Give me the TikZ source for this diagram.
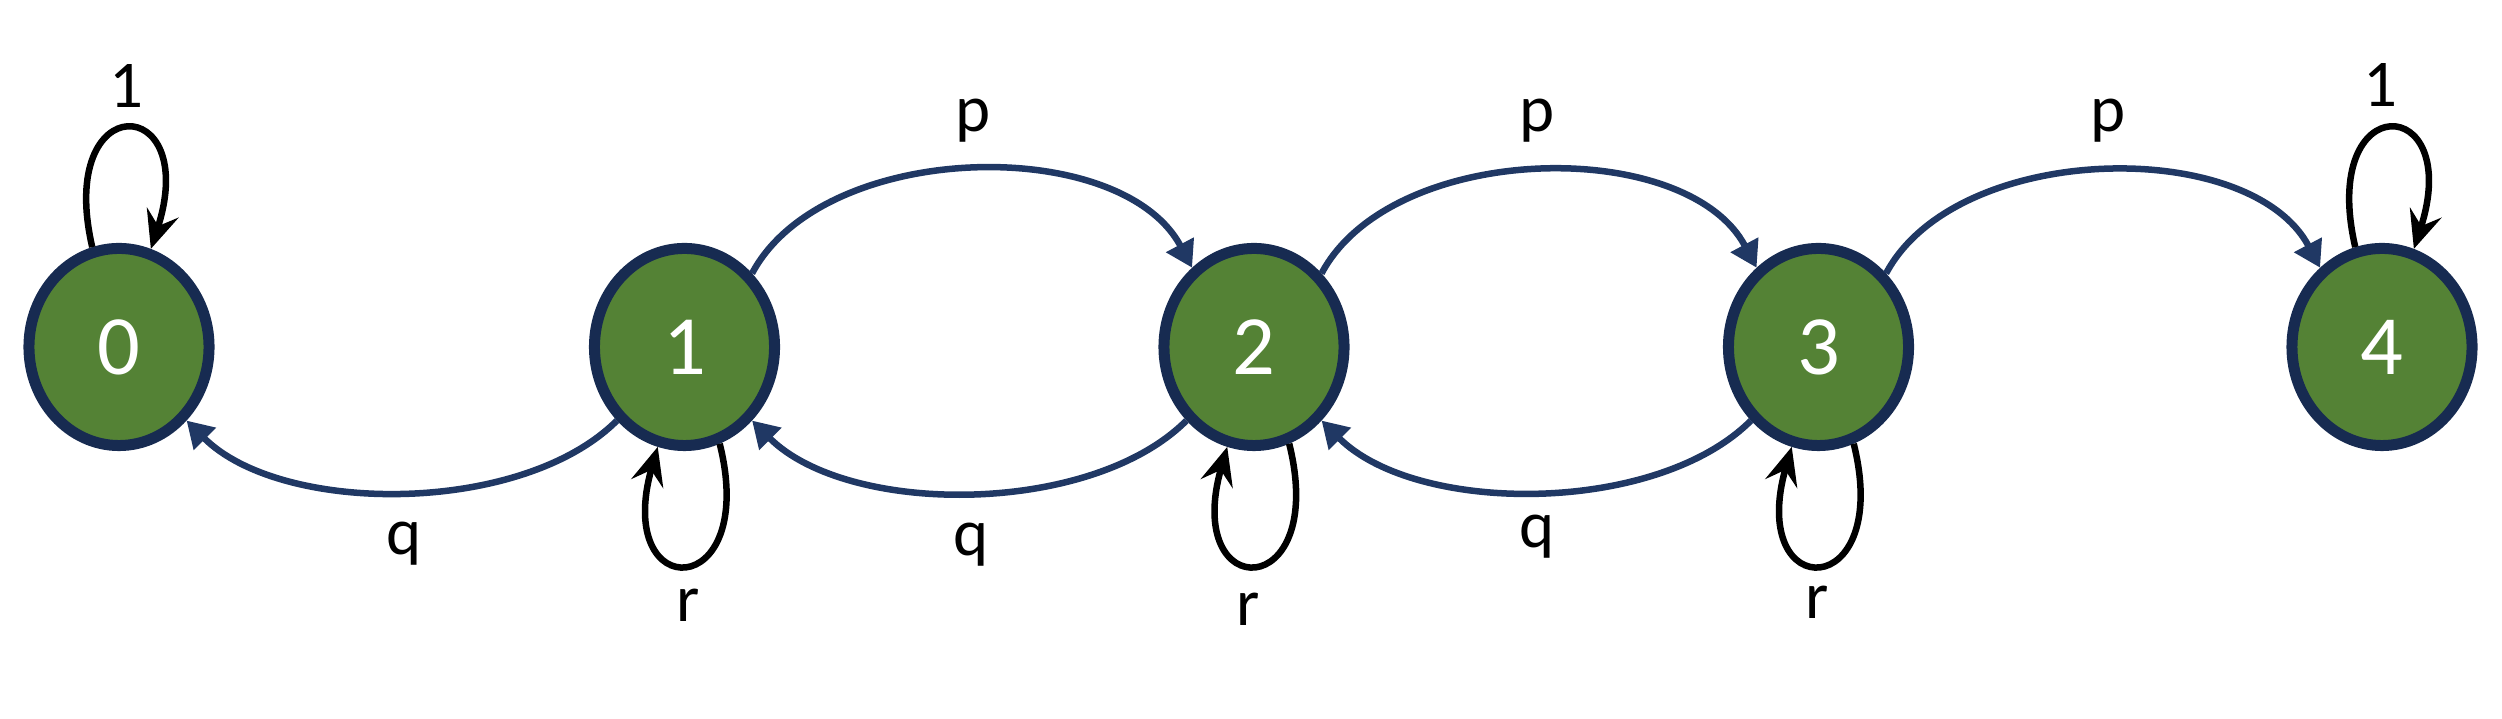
\documentclass[tikz,border=0pt]{standalone}
\usepackage{fontspec}
\setmainfont{Carlito}
\usetikzlibrary{shapes.geometric,arrows.meta}
\definecolor{stategreen}{HTML}{548235}
\definecolor{statering}{HTML}{172B51}
\definecolor{arcblue}{HTML}{203864}

\begin{document}
\begin{tikzpicture}[x=0.01cm,y=0.01cm,
    state/.style={ellipse,draw=statering,fill=stategreen,line width=0.11cm,
        minimum width=1.8cm,minimum height=1.97cm,inner sep=0pt,
        text=white,font=\fontsize{24}{24}\selectfont},
    parc/.style={draw=arcblue,line width=0.065cm,-{Triangle[length=0.26cm,width=0.3cm]}},
    selfloop/.style={draw=black,line width=0.065cm,-{Stealth[length=0.38cm,width=0.33cm,inset=0.14cm]}},
    lbl/.style={anchor=base,inner sep=0pt,font=\fontsize{19}{19}\selectfont}]
    \useasboundingbox (0,0) rectangle (2502,719);
    % states
    \node[state] (n0) at (119,372) {0};
    \node[state] (n1) at (684.5,372) {1};
    \node[state] (n2) at (1254,372) {2};
    \node[state] (n3) at (1818.5,372) {3};
    \node[state] (n4) at (2382,372) {4};
    % forward arcs
    \draw[parc] (n1.north east) to[out=62,in=118,looseness=0.88] (n2.128);
    \draw[parc] (n2.north east) to[out=62,in=118,looseness=0.88] (n3.128);
    \draw[parc] (n3.north east) to[out=62,in=118,looseness=0.88] (n4.128);
    % backward arcs
    \draw[parc] (n1.south west) to[out=-135,in=-45,looseness=0.8] (n0.south east);
    \draw[parc] (n2.south west) to[out=-135,in=-45,looseness=0.8] (n1.south east);
    \draw[parc] (n3.south west) to[out=-135,in=-45,looseness=0.8] (n2.south east);
    % self loops
    \draw[selfloop] (n0.105) .. controls +(103:165) and +(72:165) .. (n0.72);
    \draw[selfloop] (n4.105) .. controls +(103:165) and +(72:165) .. (n4.72);
    \foreach \s in {n1,n2,n3}
        \draw[selfloop] (\s.-70) .. controls +(-76:165) and +(-106:165) .. (\s.-105);
    % labels
    \node[lbl] (l0) at (126,611) {1};
    \node[lbl] (l4) at (2380,612) {1};
    \node[lbl] (p12) at (973,587) {p};
    \node[lbl] (p23) at (1537,587) {p};
    \node[lbl] (p34) at (2108,587) {p};
    \node[lbl] (q10) at (404,164) {q};
    \node[lbl] (q21) at (971,163) {q};
    \node[lbl] (q32) at (1537,171) {q};
    \node[lbl] (r1) at (688,97) {r};
    \node[lbl] (r2) at (1248,93) {r};
    \node[lbl] (r3) at (1817,100) {r};
\end{tikzpicture}
\end{document}
